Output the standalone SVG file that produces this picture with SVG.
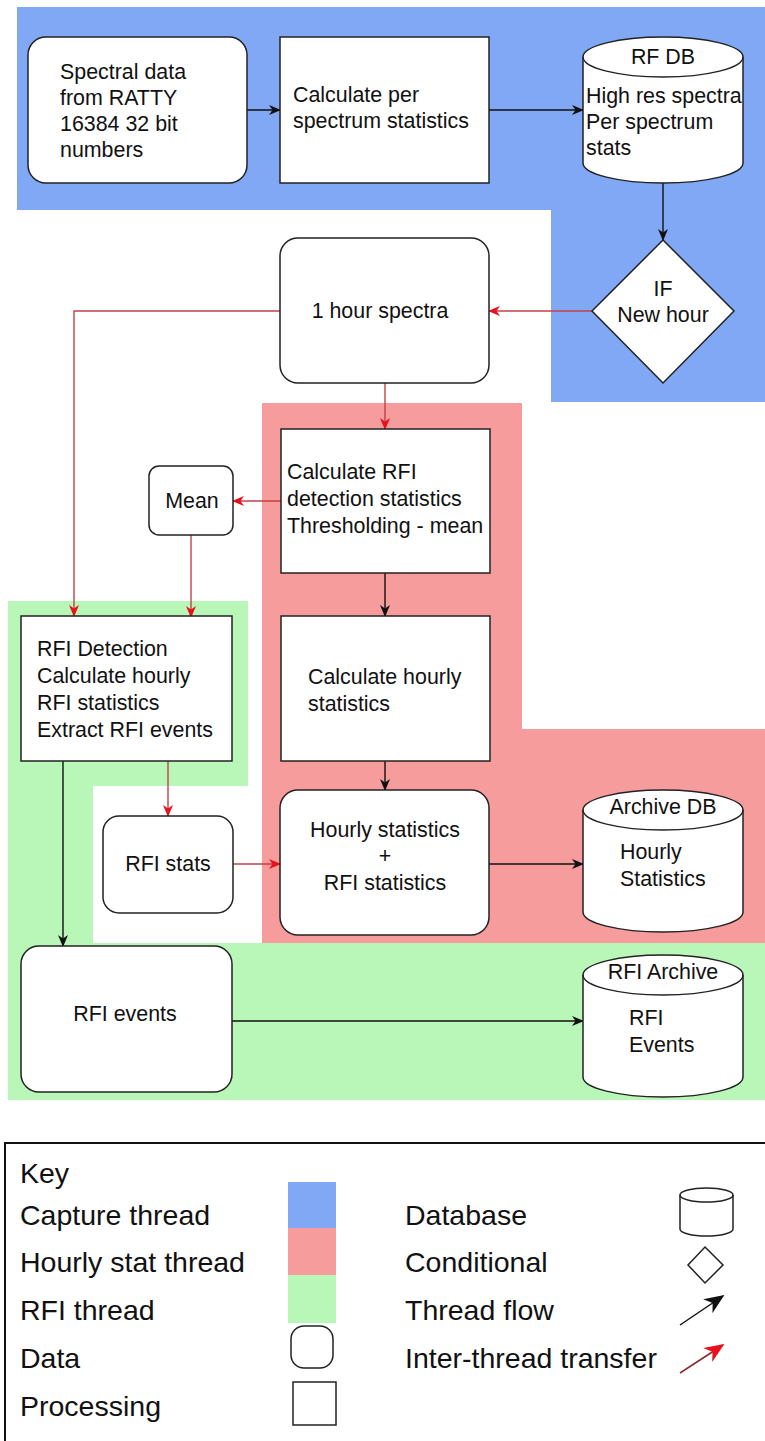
<svg xmlns="http://www.w3.org/2000/svg" width="765" height="1441" viewBox="0 0 765 1441">
<style>
.t{font-family:"Liberation Sans",Arial,sans-serif;font-size:21.4px;fill:#111}
.k{font-family:"Liberation Sans",Arial,sans-serif;font-size:28.5px;fill:#111}
.c{text-anchor:middle}
.box{fill:#fff;stroke:#222;stroke-width:1.5}
.blk{fill:none;stroke:#111;stroke-width:1.4}
.red{fill:none;stroke:#c0404a;stroke-width:1.4}
</style>
<defs>
<marker id="ab" viewBox="0 0 12 10" refX="11" refY="5" markerWidth="12" markerHeight="10" markerUnits="userSpaceOnUse" orient="auto">
<path d="M0,0 L12,5 L0,10 L3.5,5 Z" fill="#111"/>
</marker>
<marker id="ar" viewBox="0 0 12 10" refX="11" refY="5" markerWidth="12" markerHeight="10" markerUnits="userSpaceOnUse" orient="auto">
<path d="M0,0 L12,5 L0,10 L3.5,5 Z" fill="#e8101c"/>
</marker>
<marker id="abk" viewBox="0 0 12 10" refX="11" refY="5" markerWidth="20" markerHeight="17" markerUnits="userSpaceOnUse" orient="auto">
<path d="M0,0 L12,5 L0,10 L3.5,5 Z" fill="#111"/>
</marker>
<marker id="ark" viewBox="0 0 12 10" refX="11" refY="5" markerWidth="20" markerHeight="17" markerUnits="userSpaceOnUse" orient="auto">
<path d="M0,0 L12,5 L0,10 L3.5,5 Z" fill="#e8101c"/>
</marker>
</defs>
<rect width="765" height="1441" fill="#fff"/>

<g id="threads">
<polygon points="17,7 765,7 765,402 551,402 551,210 17,210" fill="#80a8f4"/>
<polygon points="262,403 522,403 522,729 765,729 765,943 262,943" fill="#f69c9c"/>
<polygon points="8,601 248,601 248,786 93,786 93,943 765,943 765,1100 8,1100" fill="#b8f7b8"/>
</g>

<g id="connectors">
<line class="blk" x1="247" y1="110" x2="280" y2="110" marker-end="url(#ab)"/>
<line class="blk" x1="489" y1="110" x2="583" y2="110" marker-end="url(#ab)"/>
<line class="blk" x1="663" y1="183" x2="663" y2="240" marker-end="url(#ab)"/>
<line class="red" x1="592" y1="311" x2="489" y2="311" marker-end="url(#ar)"/>
<polyline class="red" points="280,311 74,311 74,616" marker-end="url(#ar)"/>
<line class="red" x1="385" y1="383" x2="385" y2="429" marker-end="url(#ar)"/>
<line class="red" x1="281" y1="501" x2="233" y2="501" marker-end="url(#ar)"/>
<line class="red" x1="191" y1="535" x2="191" y2="617" marker-end="url(#ar)"/>
<line class="blk" x1="385" y1="573" x2="385" y2="616" marker-end="url(#ab)"/>
<line class="blk" x1="385" y1="761" x2="385" y2="790" marker-end="url(#ab)"/>
<line class="red" x1="168" y1="761" x2="168" y2="816" marker-end="url(#ar)"/>
<line class="red" x1="232" y1="864" x2="280" y2="864" marker-end="url(#ar)"/>
<line class="blk" x1="489" y1="864" x2="583" y2="864" marker-end="url(#ab)"/>
<line class="blk" x1="63" y1="761" x2="63" y2="946" marker-end="url(#ab)"/>
<line class="blk" x1="232" y1="1021" x2="583" y2="1021" marker-end="url(#ab)"/>
</g>

<g id="n-spectral">
<rect class="box" x="28" y="37" width="219" height="146" rx="18"/>
<text class="t" x="60" y="79">Spectral data</text>
<text class="t" x="60" y="105">from RATTY</text>
<text class="t" x="60" y="131">16384 32 bit</text>
<text class="t" x="60" y="157">numbers</text>
</g>

<g id="n-calcper">
<rect class="box" x="280" y="37" width="209" height="146"/>
<text class="t" x="293" y="102">Calculate per</text>
<text class="t" x="293" y="128">spectrum statistics</text>
</g>

<g id="n-rfdb">
<path class="box" d="M583,57 A80,20 0 0 1 743,57 L743,163 A80,20 0 0 1 583,163 Z"/>
<path fill="none" stroke="#222" stroke-width="1.5" d="M583,57 A80,20 0 0 0 743,57"/>
<text class="t c" x="663" y="64">RF DB</text>
<text class="t" x="586" y="103">High res spectra</text>
<text class="t" x="586" y="129">Per spectrum</text>
<text class="t" x="586" y="155">stats</text>
</g>

<g id="n-if">
<polygon class="box" points="663,240 734,311 663,383 592,311"/>
<text class="t c" x="663" y="296">IF</text>
<text class="t c" x="663" y="322">New hour</text>
</g>

<g id="n-hourspectra">
<rect class="box" x="280" y="238" width="209" height="145" rx="18"/>
<text class="t c" x="380" y="318">1 hour spectra</text>
</g>

<g id="n-calcrfi">
<rect class="box" x="281" y="429" width="209" height="144"/>
<text class="t" x="287" y="479">Calculate RFI</text>
<text class="t" x="287" y="506">detection statistics</text>
<text class="t" x="287" y="533">Thresholding - mean</text>
</g>

<g id="n-mean">
<rect class="box" x="149" y="466" width="84" height="69" rx="10"/>
<text class="t c" x="192" y="508">Mean</text>
</g>

<g id="n-rfidetect">
<rect class="box" x="21" y="616" width="211" height="145"/>
<text class="t" x="37" y="656">RFI Detection</text>
<text class="t" x="37" y="683">Calculate hourly</text>
<text class="t" x="37" y="710">RFI statistics</text>
<text class="t" x="37" y="737">Extract RFI events</text>
</g>

<g id="n-calchourly">
<rect class="box" x="281" y="616" width="209" height="145"/>
<text class="t" x="308" y="684">Calculate hourly</text>
<text class="t" x="308" y="711">statistics</text>
</g>

<g id="n-rfistats">
<rect class="box" x="103" y="816" width="130" height="97" rx="16"/>
<text class="t c" x="168" y="871">RFI stats</text>
</g>

<g id="n-hourlyrfi">
<rect class="box" x="280" y="790" width="209" height="145" rx="18"/>
<text class="t c" x="385" y="837">Hourly statistics</text>
<text class="t c" x="385" y="863">+</text>
<text class="t c" x="385" y="890">RFI statistics</text>
</g>

<g id="n-archivedb">
<path class="box" d="M583,810 A80,20 0 0 1 743,810 L743,912 A80,20 0 0 1 583,912 Z"/>
<path fill="none" stroke="#222" stroke-width="1.5" d="M583,810 A80,20 0 0 0 743,810"/>
<text class="t c" x="663" y="814">Archive DB</text>
<text class="t" x="620" y="859">Hourly</text>
<text class="t" x="620" y="886">Statistics</text>
</g>

<g id="n-rfievents">
<rect class="box" x="21" y="946" width="211" height="146" rx="18"/>
<text class="t c" x="125" y="1021">RFI events</text>
</g>

<g id="n-rfiarchive">
<path class="box" d="M583,975 A80,20 0 0 1 743,975 L743,1077 A80,20 0 0 1 583,1077 Z"/>
<path fill="none" stroke="#222" stroke-width="1.5" d="M583,975 A80,20 0 0 0 743,975"/>
<text class="t c" x="663" y="979">RFI Archive</text>
<text class="t" x="629" y="1025">RFI</text>
<text class="t" x="629" y="1052">Events</text>
</g>

<g id="key">
<rect x="5" y="1143" width="780" height="320" fill="#fff" stroke="#111" stroke-width="2"/>
<text class="k" x="20" y="1183">Key</text>
<text class="k" x="20" y="1225">Capture thread</text>
<text class="k" x="20" y="1272">Hourly stat thread</text>
<text class="k" x="20" y="1320">RFI thread</text>
<text class="k" x="20" y="1368">Data</text>
<text class="k" x="20" y="1416">Processing</text>
<rect x="288" y="1182" width="48" height="46" fill="#80a8f4"/>
<rect x="288" y="1228" width="48" height="47" fill="#f69c9c"/>
<rect x="288" y="1275" width="48" height="48" fill="#b8f7b8"/>
<rect x="291" y="1326" width="42" height="42" rx="13" fill="#fff" stroke="#222" stroke-width="1.5"/>
<rect x="293" y="1382" width="43" height="43" fill="#fff" stroke="#222" stroke-width="1.5"/>
<text class="k" x="405" y="1225">Database</text>
<text class="k" x="405" y="1272">Conditional</text>
<text class="k" x="405" y="1320">Thread flow</text>
<text class="k" x="405" y="1368">Inter-thread transfer</text>
<path d="M680,1195 A26.5,7 0 0 1 733,1195 L733,1229 A26.5,7 0 0 1 680,1229 Z" fill="#fff" stroke="#222" stroke-width="1.5"/>
<path d="M680,1195 A26.5,7 0 0 0 733,1195" fill="none" stroke="#222" stroke-width="1.5"/>
<polygon points="705,1247 723,1265 705,1283 688,1265" fill="#fff" stroke="#222" stroke-width="1.5"/>
<line x1="680" y1="1325" x2="723" y2="1296" stroke="#111" stroke-width="1.5" marker-end="url(#abk)"/>
<line x1="680" y1="1373" x2="723" y2="1345" stroke="#8a2a30" stroke-width="1.5" marker-end="url(#ark)"/>
</g>
</svg>
